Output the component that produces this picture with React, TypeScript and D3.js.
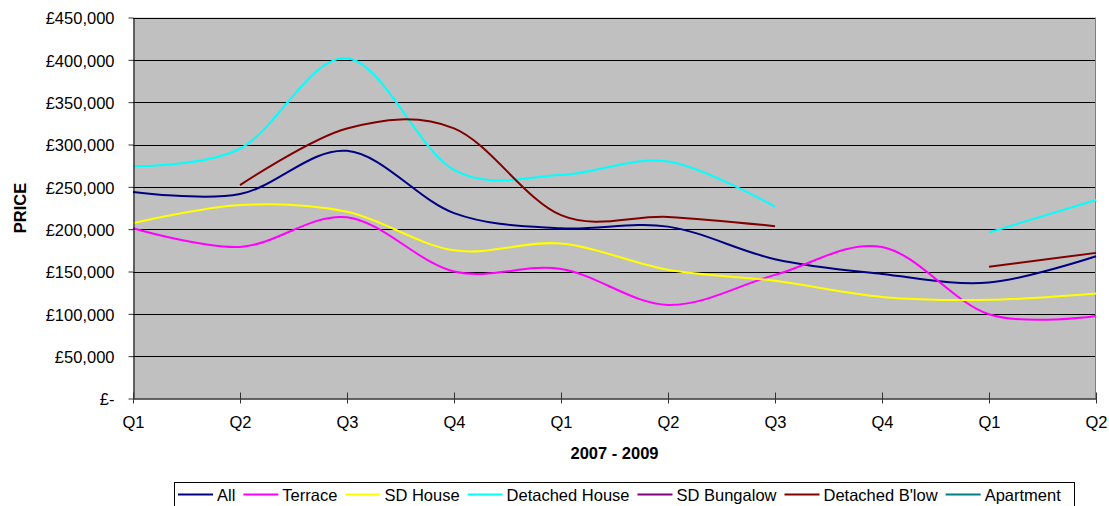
import React, { useEffect, useRef } from 'react';
import * as d3 from 'd3';

const quarters = ['Q1', 'Q2', 'Q3', 'Q4', 'Q1', 'Q2', 'Q3', 'Q4', 'Q1', 'Q2'];
const priceTicks = [0, 50000, 100000, 150000, 200000, 250000, 300000, 350000, 400000, 450000];

const allHomes = [244000, 241500, 292500, 219000, 201000, 203000, 164500, 147000, 137000, 168000];
const terrace = [201000, 179000, 214000, 150000, 153000, 110500, 146000, 179000, 99500, 97500];
const sdHouse = [207000, 228500, 220500, 175000, 183000, 152000, 139000, 120000, 116500, 124000];
const detachedHouse = [274500, 295000, 402000, 270000, 264000, 280000, 226500, null, 196000, 234500];
const sdBungalow = [null, null, null, null, null, null, null, null, null, null];
const detachedBlow = [null, 252000, 319000, 319000, 216500, 214500, 203500, null, 155500, 172000];
const apartment = [null, null, null, null, null, null, null, null, null, null];

const seriesNames = ['All', 'Terrace', 'SD House', 'Detached House', 'SD Bungalow', "Detached B'low", 'Apartment'];
const seriesValues = [allHomes, terrace, sdHouse, detachedHouse, sdBungalow, detachedBlow, apartment];
const seriesColors = ['#000080', '#FF00FF', '#FFFF00', '#00FFFF', '#800080', '#800000', '#008080'];

const FONT = '"Liberation Sans", Arial, sans-serif';
const FS = 16.5;

function drawChart(node: SVGSVGElement) {
  const svg = d3.select(node);
  svg.selectAll('*').remove();

  const left = 133, right = 1096, top = 17.5, bottom = 398.5;

  const x = d3.scalePoint<number>().domain(d3.range(quarters.length)).range([left, right]);
  const y = d3.scaleLinear().domain([0, 450000]).range([bottom, top]);

  // plot area
  svg.append('rect')
    .attr('x', left).attr('y', top)
    .attr('width', right - left).attr('height', bottom - top)
    .attr('fill', '#C0C0C0');

  // gridlines
  svg.append('g').selectAll('line')
    .data(priceTicks.filter(d => d > 0))
    .join('line')
    .attr('x1', left).attr('x2', right)
    .attr('y1', d => Math.round(y(d)) + 0.5).attr('y2', d => Math.round(y(d)) + 0.5)
    .attr('stroke', '#000').attr('stroke-width', 1);

  // right border
  svg.append('line')
    .attr('x1', right - 0.5).attr('x2', right - 0.5)
    .attr('y1', top).attr('y2', bottom)
    .attr('stroke', '#808080');

  // series lines
  const line = d3.line<number | null>()
    .defined(d => d != null)
    .x((d, i) => x(i) as number)
    .y(d => y(d as number))
    .curve(d3.curveCardinal.tension(0));

  seriesValues.forEach((vals, k) => {
    svg.append('path')
      .datum(vals)
      .attr('fill', 'none')
      .attr('stroke', seriesColors[k])
      .attr('stroke-width', 2)
      .attr('d', line);
  });

  // y axis
  const yAxis = svg.append('g')
    .attr('transform', `translate(${left + 0.5},0)`)
    .call(d3.axisLeft(y)
      .tickValues(priceTicks)
      .tickSizeInner(5)
      .tickSizeOuter(0)
      .tickPadding(14)
      .tickFormat(d => (+d === 0 ? '£-' : '£' + d3.format(',')(+d))));
  yAxis.select('.domain').attr('stroke', '#000');
  yAxis.selectAll('.tick line').attr('stroke', '#333');
  yAxis.selectAll('.tick text')
    .attr('font-family', FONT).attr('font-size', FS).attr('fill', '#000')
    .attr('dy', '0.38em');

  // x axis
  const xAxis = svg.append('g')
    .attr('transform', `translate(0,${bottom})`)
    .call(d3.axisBottom(x)
      .tickSizeInner(5)
      .tickSizeOuter(0)
      .tickPadding(13)
      .tickFormat(i => quarters[+i]));
  xAxis.select('.domain').attr('stroke', '#333').attr('stroke-width', 1.5);
  xAxis.selectAll('.tick line').attr('stroke', '#333').attr('y1', -6);
  xAxis.selectAll('.tick text')
    .attr('font-family', FONT).attr('font-size', FS).attr('fill', '#000');

  // axis titles
  svg.append('text')
    .attr('transform', 'translate(25.5,208) rotate(-90)')
    .attr('text-anchor', 'middle')
    .attr('font-family', FONT).attr('font-size', FS).attr('font-weight', 'bold')
    .text('PRICE');

  svg.append('text')
    .attr('x', (left + right) / 2).attr('y', 458.5)
    .attr('text-anchor', 'middle')
    .attr('font-family', FONT).attr('font-size', FS).attr('font-weight', 'bold')
    .text('2007 - 2009');

  // legend
  const legend = svg.append('g');
  legend.append('rect')
    .attr('x', 174.5).attr('y', 482.5)
    .attr('width', 900).attr('height', 40)
    .attr('fill', '#fff').attr('stroke', '#000');

  let cx = 178;
  const ly = 494.5;
  seriesNames.forEach((name, k) => {
    legend.append('line')
      .attr('x1', cx).attr('x2', cx + 35)
      .attr('y1', ly).attr('y2', ly)
      .attr('stroke', seriesColors[k]).attr('stroke-width', 2);
    const t = legend.append('text')
      .attr('x', cx + 39).attr('y', ly + 6)
      .attr('font-family', FONT).attr('font-size', FS).attr('fill', '#000')
      .text(name);
    const w = (t.node() as SVGTextElement).getComputedTextLength();
    cx += 39 + w + 8;
  });
}

export default function App() {
  const ref = useRef<SVGSVGElement>(null);
  useEffect(() => {
    if (ref.current) drawChart(ref.current);
  }, []);
  return (
    <svg
      ref={ref}
      width={1109}
      height={506}
      style={{ position: 'absolute', left: 0, top: 0, background: '#fff' }}
    />
  );
}
